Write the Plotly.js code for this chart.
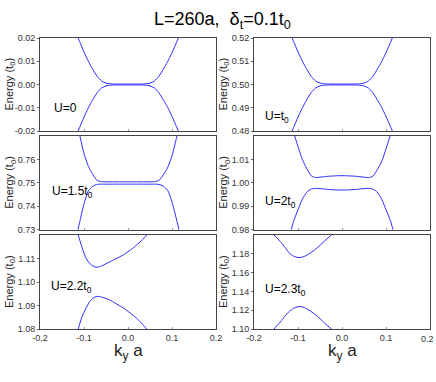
<!DOCTYPE html>
<html>
<head>
<meta charset="utf-8">
<script src="https://cdn.plot.ly/plotly-3.0.1.min.js"></script>
<style>body{margin:0;}#plot{width:436px;height:382px;}</style>
</head>
<body>
<div id="plot"></div>
<script>
// ky*a grid shared by the first four panels
var kGrid = [-0.12,-0.11,-0.10,-0.09,-0.08,-0.07,-0.06,-0.05,-0.04,-0.03,-0.02,-0.01,0,
             0.01,0.02,0.03,0.04,0.05,0.06,0.07,0.08,0.09,0.10,0.11,0.12];

// U=0
var upU0 = [0.0230,0.0185,0.0140,0.0100,0.0065,0.0035,0.0015,0.0006,0.0003,0.0002,0.0002,0.0002,0.0002,
            0.0002,0.0002,0.0002,0.0003,0.0006,0.0015,0.0035,0.0065,0.0098,0.0137,0.0180,0.0225];
var loU0 = [-0.0230,-0.0185,-0.0140,-0.0100,-0.0065,-0.0035,-0.0015,-0.0006,-0.0003,-0.0002,-0.0002,-0.0002,-0.0002,
            -0.0002,-0.0002,-0.0002,-0.0003,-0.0006,-0.0015,-0.0035,-0.0065,-0.0098,-0.0137,-0.0180,-0.0225];
// U=t0
var upU1 = [0.5230,0.5185,0.5140,0.5100,0.5065,0.5035,0.5015,0.5006,0.5003,0.5002,0.5002,0.5002,0.5002,
            0.5002,0.5002,0.5002,0.5003,0.5006,0.5015,0.5035,0.5065,0.5098,0.5137,0.5180,0.5225];
var loU1 = [0.4770,0.4815,0.4860,0.4900,0.4935,0.4965,0.4985,0.4994,0.4997,0.4998,0.4998,0.4998,0.4998,
            0.4998,0.4998,0.4998,0.4997,0.4994,0.4985,0.4965,0.4935,0.4902,0.4863,0.4820,0.4775];
// U=1.5t0
var upU15 = [0.7780,0.7705,0.7625,0.7570,0.7535,0.7510,0.7505,0.7504,0.7504,0.7504,0.7504,0.7504,0.7504,
             0.7504,0.7504,0.7504,0.7504,0.7504,0.7505,0.7510,0.7533,0.7565,0.7615,0.7690,0.7770];
var loU15 = [0.7250,0.7330,0.7410,0.7465,0.7485,0.7493,0.7494,0.7494,0.7494,0.7494,0.7494,0.7494,0.7494,
             0.7494,0.7494,0.7494,0.7494,0.7494,0.7494,0.7493,0.7486,0.7468,0.7418,0.7345,0.7265];
// U=2t0
var upU2 = [1.0280,1.0215,1.0155,1.0100,1.0060,1.0030,1.0022,1.0024,1.0026,1.0028,1.0029,1.0030,1.0030,
            1.0030,1.0029,1.0028,1.0026,1.0024,1.0022,1.0028,1.0055,1.0090,1.0145,1.0205,1.0270];
var loU2 = [0.9765,0.9835,0.9885,0.9930,0.9960,0.9973,0.9976,0.9975,0.9973,0.9971,0.9970,0.9969,0.9969,
            0.9969,0.9970,0.9971,0.9973,0.9975,0.9976,0.9973,0.9960,0.9930,0.9885,0.9838,0.9770];
// U=2.2t0
var kU22 = [-0.12,-0.113,-0.105,-0.095,-0.085,-0.075,-0.07,-0.06,-0.05,-0.04,-0.03,-0.02,-0.01,0,0.01,0.02,0.03,0.0425,0.05];
var upU22 = [1.1250,1.1200,1.1150,1.1100,1.1075,1.1064,1.1063,1.1068,1.1078,1.1087,1.1096,1.1106,1.1116,1.1129,1.1142,1.1158,1.1175,1.1200,1.1215];
var loU22 = [1.0755,1.0800,1.0850,1.0890,1.0922,1.0936,1.0939,1.0936,1.0930,1.0922,1.0911,1.0900,1.0889,1.0875,1.0861,1.0845,1.0826,1.0800,1.0785];
// U=2.3t0
var kU23 = [-0.16,-0.1545,-0.14,-0.13,-0.12,-0.11,-0.10,-0.09,-0.08,-0.07,-0.06,-0.05,-0.04,-0.0243,-0.02];
var upU23 = [1.2035,1.2000,1.1930,1.1870,1.1810,1.1775,1.1760,1.1765,1.1785,1.1815,1.1850,1.1890,1.1935,1.2000,1.2020];
var loU23 = [1.0965,1.1000,1.1075,1.1135,1.1185,1.1220,1.1238,1.1235,1.1215,1.1185,1.1150,1.1110,1.1065,1.1000,1.0980];

var panelLabels = ['U=0','U=t<sub>0</sub>','U=1.5t<sub>0</sub>','U=2t<sub>0</sub>','U=2.2t<sub>0</sub>','U=2.3t<sub>0</sub>'];
var yRanges = [[-0.02,0.02],[0.48,0.52],[0.73,0.77],[0.98,1.02],[1.08,1.12],[1.10,1.20]];
var yTickVals = [
  [-0.02,-0.01,0,0.01,0.02],
  [0.48,0.49,0.50,0.51,0.52],
  [0.73,0.74,0.75,0.76],
  [0.98,0.99,1.00,1.01],
  [1.08,1.09,1.10,1.11],
  [1.10,1.12,1.14,1.16,1.18]
];
var yTickText = [
  ['-0.02','-0.01','0.00','0.01','0.02'],
  ['0.48','0.49','0.50','0.51','0.52'],
  ['0.73','0.74','0.75','0.76'],
  ['0.98','0.99','1.00','1.01'],
  ['1.08','1.09','1.10','1.11'],
  ['1.10','1.12','1.14','1.16','1.18']
];
var xTickVals = [-0.2,-0.1,0,0.1,0.2];
var xTickText = ['-0.2','-0.1','0.0','0.1','0.2'];

var curves = [
  [kGrid, upU0, loU0], [kGrid, upU1, loU1],
  [kGrid, upU15, loU15], [kGrid, upU2, loU2],
  [kU22, upU22, loU22], [kU23, upU23, loU23]
];

var W = 436, H = 382;
function fx(p) { return p / W; }
function fy(p) { return 1 - p / H; }

// pixel boxes of the panels
var colX = [[40, 216], [254, 430]];
var rowY = [[38, 131], [136, 229.5], [235, 329]];

var blue = 'rgb(45,45,255)';
var font = 'Liberation Sans, Arial, sans-serif';

var data = [];
var layout = {
  width: W, height: H,
  margin: {l: 0, r: 0, t: 0, b: 0},
  paper_bgcolor: 'white', plot_bgcolor: 'white',
  showlegend: false,
  font: {family: font, color: '#222'},
  title: {
    text: 'L=260a,  δ<sub>t</sub>=0.1t<sub>0</sub>',
    x: 0.51, xanchor: 'center', y: 1 - 19 / H, yanchor: 'middle', yref: 'container',
    font: {family: font, size: 18, color: '#000'}
  },
  annotations: []
};

var labelPos = [[52, 108], [263, 116.7], [50, 191.7], [263, 201.7], [48.7, 286.7], [263, 290]];

for (var i = 0; i < 6; i++) {
  var row = Math.floor(i / 2), col = i % 2;
  var n = i + 1;
  var xa = 'x' + (n === 1 ? '' : n), ya = 'y' + (n === 1 ? '' : n);
  var c = curves[i];
  [c[1], c[2]].forEach(function(yv) {
    data.push({
      type: 'scatter', mode: 'lines', x: c[0], y: yv,
      xaxis: xa, yaxis: ya,
      line: {color: blue, width: 1, shape: 'spline', smoothing: 0.7},
      hoverinfo: 'skip'
    });
  });
  // the last tick label of the right column sits on the page edge; drawn below as an annotation
  var tt = (row === 2 && col === 1) ? xTickText.slice(0, 4).concat(['']) : xTickText;
  layout['xaxis' + (n === 1 ? '' : n)] = {
    domain: [fx(colX[col][0]), fx(colX[col][1])],
    anchor: ya, range: [-0.2, 0.2],
    tickvals: xTickVals, ticktext: tt,
    showticklabels: row === 2, ticklabeloverflow: 'allow',
    ticks: 'inside', ticklen: 2, tickcolor: '#999',
    tickfont: {size: 9, color: '#333'},
    showgrid: false, zeroline: false,
    showline: true, mirror: true, linecolor: '#444', linewidth: 1
  };
  layout['yaxis' + (n === 1 ? '' : n)] = {
    domain: [fy(rowY[row][1]), fy(rowY[row][0])],
    anchor: xa, range: yRanges[i],
    tickvals: yTickVals[i], ticktext: yTickText[i],
    ticks: 'outside', ticklen: 2, tickcolor: '#666',
    tickfont: {size: 9, color: '#333'},
    showgrid: false, zeroline: false,
    showline: true, mirror: true, linecolor: '#444', linewidth: 1
  };
  // y axis title
  layout.annotations.push({
    text: 'Energy (t<sub>0</sub>)', textangle: -90,
    xref: 'paper', yref: 'paper',
    x: fx(col === 0 ? 10 : 224), y: fy((rowY[row][0] + rowY[row][1]) / 2),
    xanchor: 'center', yanchor: 'middle', showarrow: false,
    font: {size: 11, color: '#222'}
  });
  // panel label
  layout.annotations.push({
    text: panelLabels[i],
    xref: 'paper', yref: 'paper',
    x: fx(labelPos[i][0]), y: fy(labelPos[i][1]),
    xanchor: 'left', yanchor: 'middle', showarrow: false,
    font: {size: 12, color: '#000'}
  });
}

layout.annotations.push({
  text: xTickText[4], xref: 'paper', yref: 'paper',
  x: 1, y: fy(339), xanchor: 'right', yanchor: 'middle', showarrow: false,
  font: {size: 9, color: '#333'}
});

// x axis titles
[128, 342].forEach(function(px) {
  layout.annotations.push({
    text: 'k<sub>y</sub> a',
    xref: 'paper', yref: 'paper', x: fx(px), y: fy(352),
    xanchor: 'center', yanchor: 'middle', showarrow: false,
    font: {size: 17, color: '#222'}
  });
});

Plotly.newPlot('plot', data, layout, {displayModeBar: false, staticPlot: true});
</script>
</body>
</html>
